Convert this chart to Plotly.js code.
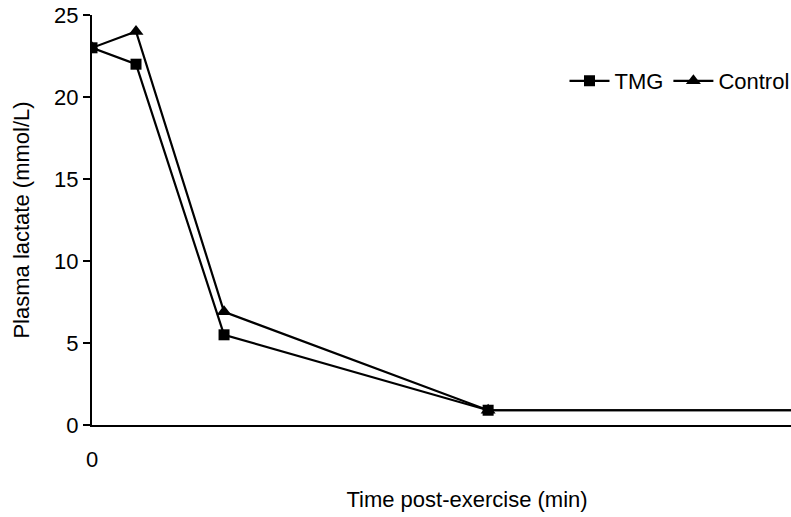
<!DOCTYPE html>
<html>
<head>
<meta charset="utf-8">
<script src="https://cdn.plot.ly/plotly-3.0.1.min.js"></script>
<style>
html, body { margin: 0; padding: 0; overflow: hidden; background: #fff; }
#chart { width: 850px; height: 517px; }
</style>
</head>
<body>
<div id="chart"></div>
<script>
// Time post-exercise (min)
const timeMin = [0, 5, 15, 45, 90];
const tmgLactate = [23.0, 22.0, 5.5, 0.9, 0.9];
const controlLactate = [23.0, 24.0, 6.9, 0.9, 0.9];
const xTickVals = [0];
const xTickText = ['0'];
const yTickVals = [0, 5, 10, 15, 20, 25];

const FONT = 'Liberation Sans, Arial, Helvetica, sans-serif';

const traces = [
  {
    x: timeMin, y: tmgLactate, name: 'TMG', mode: 'lines+markers', type: 'scatter',
    line: { color: '#000', width: 2.2 },
    marker: { symbol: 'square', size: 11, color: '#000' }
  },
  {
    x: timeMin, y: controlLactate, name: 'Control', mode: 'lines+markers', type: 'scatter',
    line: { color: '#000', width: 2.2 },
    marker: { symbol: 'triangle-up', size: 13, color: '#000' }
  }
];

const layout = {
  width: 850, height: 517,
  margin: { l: 92, r: 8, t: 15, b: 92 },
  paper_bgcolor: '#fff', plot_bgcolor: '#fff',
  font: { family: FONT, size: 22, color: '#000' },
  showlegend: true,
  legend: {
    orientation: 'h', x: 0.63, y: 0.839, xanchor: 'left', yanchor: 'middle',
    itemwidth: 40, tracegroupgap: 0,
    font: { family: FONT, size: 22, color: '#000' }, bgcolor: 'rgba(0,0,0,0)'
  },
  xaxis: {
    range: [0, 85.2], showgrid: false, zeroline: false,
    showline: true, linecolor: '#000', linewidth: 2,
    tickvals: xTickVals, ticktext: xTickText,
    ticks: 'outside', ticklen: 14, tickcolor: 'rgba(0,0,0,0)',
    tickfont: { family: FONT, size: 22, color: '#000' },
    title: { text: 'Time post-exercise (min)', font: { family: FONT, size: 22, color: '#000' }, standoff: 20 }
  },
  yaxis: {
    range: [0, 25], showgrid: false, zeroline: false,
    showline: true, linecolor: '#000', linewidth: 2,
    tickvals: yTickVals, ticks: 'outside', ticklen: 7, tickwidth: 2, tickcolor: '#000',
    tickfont: { family: FONT, size: 22, color: '#000' },
    title: { text: 'Plasma lactate (mmol/L)', font: { family: FONT, size: 22, color: '#000' }, standoff: 18 }
  }
};

Plotly.newPlot('chart', traces, layout, { displayModeBar: false, staticPlot: true });
</script>
</body>
</html>
